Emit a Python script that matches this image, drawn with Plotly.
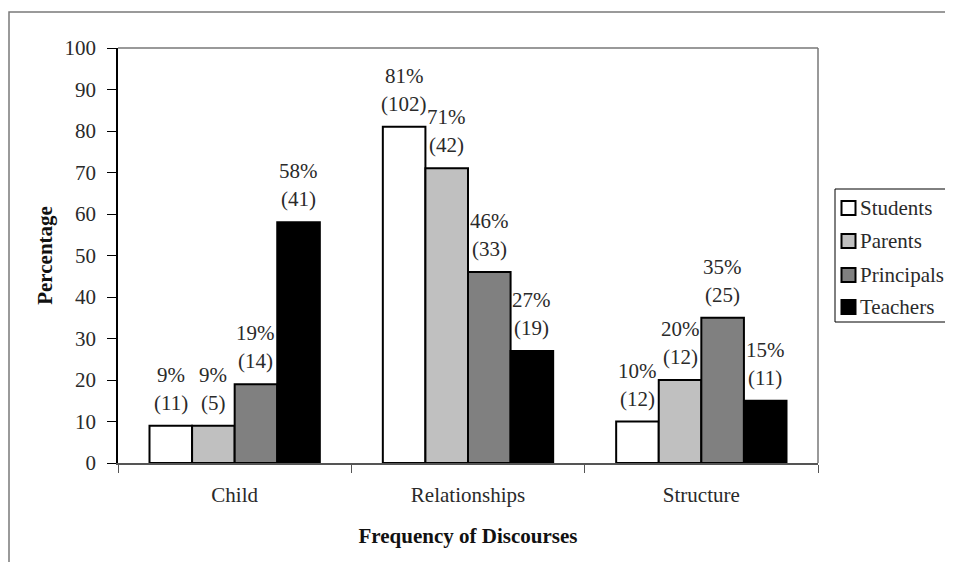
import plotly.graph_objects as go

categories = ["Child", "Relationships", "Structure"]
series_names = ["Students", "Parents", "Principals", "Teachers"]
percentages = {
    "Students": [9, 81, 10],
    "Parents": [9, 71, 20],
    "Principals": [19, 46, 35],
    "Teachers": [58, 27, 15],
}
counts = {
    "Students": [11, 102, 12],
    "Parents": [5, 42, 12],
    "Principals": [14, 33, 25],
    "Teachers": [41, 19, 11],
}
y_ticks = [0, 10, 20, 30, 40, 50, 60, 70, 80, 90, 100]

colors = {"Students": "#ffffff", "Parents": "#c0c0c0", "Principals": "#808080", "Teachers": "#000000"}
FONT = "Liberation Serif, Times New Roman, serif"
TXT = "#2a2a2a"
FS = 21

# page offset of the body margin (8px) compensated in the margins
OFF = 8
PL, PR, PT, PB = 118, 818, 48, 463          # plot area in page pixels
W = PR - PL
H = PB - PT

def px_x(x):
    return (x - PL) / W

def px_y(y):
    return 1 - (y - PT) / H

fig = go.Figure()
for name in series_names:
    fig.add_trace(go.Bar(
        x=categories, y=percentages[name], name=name, showlegend=False,
        marker=dict(color=colors[name], line=dict(color="#000000", width=2)),
    ))

cat_w = W / len(categories)
bargap = 0.27
bar_w = cat_w * (1 - bargap) / len(series_names)

annotations = []
for i, name in enumerate(series_names):
    dx = (i - (len(series_names) - 1) / 2) * bar_w
    for j, cat in enumerate(categories):
        annotations.append(dict(x=cat, y=percentages[name][j], xref="x", yref="y",
                                text=f"({counts[name][j]})", showarrow=False,
                                xshift=dx, yshift=23, yanchor="middle",
                                font=dict(family=FONT, size=FS, color=TXT)))
        annotations.append(dict(x=cat, y=percentages[name][j], xref="x", yref="y",
                                text=f"{percentages[name][j]}%", showarrow=False,
                                xshift=dx, yshift=51, yanchor="middle",
                                font=dict(family=FONT, size=FS, color=TXT)))

shapes = [
    # outer frame
    dict(type="rect", xref="paper", yref="paper",
         x0=px_x(9), x1=px_x(975), y0=px_y(590), y1=px_y(12),
         line=dict(color="#7a7a7a", width=1.5), fillcolor="rgba(0,0,0,0)", layer="below"),
    # top border of plot
    dict(type="line", xref="paper", yref="paper", x0=0, x1=1, y0=1, y1=1,
         line=dict(color="#777777", width=1.5)),
    # right border of plot
    dict(type="line", xref="paper", yref="paper", x0=1, x1=1, y0=0, y1=1,
         line=dict(color="#777777", width=1.5)),
    # legend box
    dict(type="rect", xref="paper", yref="paper",
         x0=px_x(835), x1=px_x(975), y0=px_y(322), y1=px_y(189),
         line=dict(color="#000000", width=1), fillcolor="white"),
]

# manual legend (square swatch directly before the text, as in the reference)
leg_y = [208, 241, 275, 307]
for name, yc in zip(series_names, leg_y):
    shapes.append(dict(type="rect", xref="paper", yref="paper",
                       x0=px_x(841.5), x1=px_x(855.5), y0=px_y(yc + 7), y1=px_y(yc - 7),
                       line=dict(color="#000000", width=2), fillcolor=colors[name]))
    annotations.append(dict(x=px_x(858), y=px_y(yc), xref="paper", yref="paper",
                            text=name, showarrow=False, xanchor="left", yanchor="middle",
                            font=dict(family=FONT, size=FS, color=TXT)))

fig.update_layout(
    width=953 - OFF, height=562 - OFF,
    margin=dict(l=PL - OFF, r=953 - OFF - (PR - OFF), t=PT - OFF, b=562 - OFF - (PB - OFF),
                autoexpand=False),
    paper_bgcolor="white", plot_bgcolor="white",
    barmode="group", bargap=bargap, bargroupgap=0,
    font=dict(family=FONT, size=FS, color=TXT),
    showlegend=False,
    annotations=annotations,
    shapes=shapes,
    xaxis=dict(showline=True, linecolor="#555555", linewidth=1.5,
               ticks="outside", tickson="boundaries", ticklen=8, tickcolor="#555555",
               ticklabelstandoff=12, tickfont=dict(family=FONT, size=FS, color=TXT),
               title=dict(text="<b>Frequency of Discourses</b>", standoff=22,
                          font=dict(family=FONT, size=FS, color="#111111")),
               showgrid=False, automargin=False),
    yaxis=dict(range=[0, 100], tickvals=y_ticks, showline=True, linecolor="#000000",
               linewidth=1.5, ticks="outside", ticklen=9, tickcolor="#000000",
               tickfont=dict(family=FONT, size=FS, color=TXT), ticklabelstandoff=7,
               title=dict(text="<b>Percentage</b>", standoff=6,
                          font=dict(family=FONT, size=FS, color="#111111")),
               showgrid=False, zeroline=False, automargin=False),
)

fig.write_html("out.html")
